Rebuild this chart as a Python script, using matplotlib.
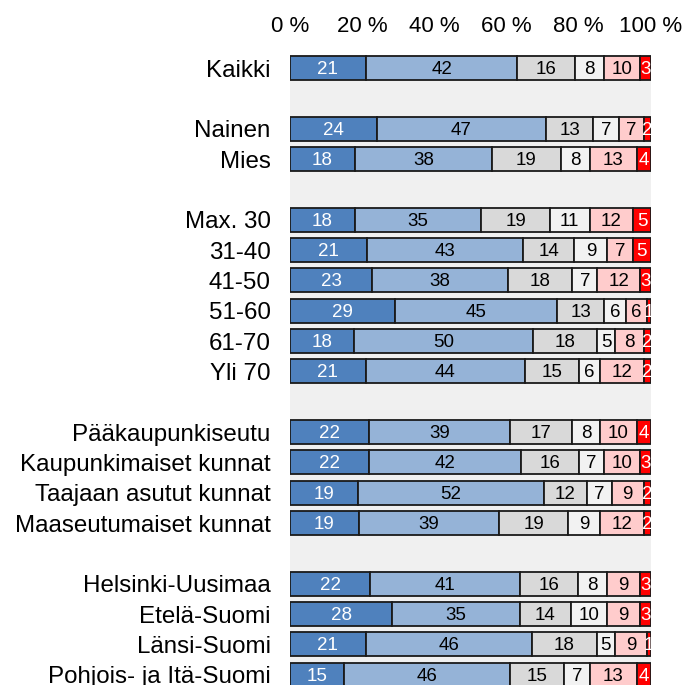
import numpy as np
import matplotlib.pyplot as plt

plt.rcParams['font.family'] = ['Liberation Sans', 'DejaVu Sans']

# rows of the chart, None = empty spacer row
labels = ['Kaikki', None,
          'Nainen', 'Mies', None,
          'Max. 30', '31-40', '41-50', '51-60', '61-70', 'Yli 70', None,
          'Pääkaupunkiseutu', 'Kaupunkimaiset kunnat', 'Taajaan asutut kunnat',
          'Maaseutumaiset kunnat', None,
          'Helsinki-Uusimaa', 'Etelä-Suomi', 'Länsi-Suomi', 'Pohjois- ja Itä-Suomi']

s1 = [21, None, 24, 18, None, 18, 21, 23, 29, 18, 21, None, 22, 22, 19, 19, None, 22, 28, 21, 15]
s2 = [42, None, 47, 38, None, 35, 43, 38, 45, 50, 44, None, 39, 42, 52, 39, None, 41, 35, 46, 46]
s3 = [16, None, 13, 19, None, 19, 14, 18, 13, 18, 15, None, 17, 16, 12, 19, None, 16, 14, 18, 15]
s4 = [8, None, 7, 8, None, 11, 9, 7, 6, 5, 6, None, 8, 7, 7, 9, None, 8, 10, 5, 7]
s5 = [10, None, 7, 13, None, 12, 7, 12, 6, 8, 12, None, 10, 10, 9, 12, None, 9, 9, 9, 13]
s6 = [3, None, 2, 4, None, 5, 5, 3, 1, 2, 2, None, 4, 3, 2, 2, None, 3, 3, 1, 4]

colors = ['#4F81BD', '#95B3D7', '#D9D9D9', '#F2F2F2', '#FFCCCC', '#FF0000']
txtcol = ['white', 'black', 'black', 'black', 'black', 'white']

fig = plt.figure(figsize=(6.89, 6.85), dpi=100)
ax = fig.add_axes([290 / 689, 1 - 705 / 685, 361 / 689, 650 / 685])
ax.set_facecolor('#F0F0F0')

series = [s1, s2, s3, s4, s5, s6]
for i, lab in enumerate(labels):
    if lab is None:
        continue
    vals = np.array([s[i] for s in series], dtype=float)
    widths = vals / vals.sum() * 100
    left = 0
    for j, (w, v) in enumerate(zip(widths, vals)):
        ax.barh(i, w, left=left, height=0.8, color=colors[j],
                edgecolor='#1a1a1a', linewidth=1.3)
        ax.text(left + w / 2, i + 0.05, f'{int(v)}', ha='center', va='center',
                fontsize=13.5, color=txtcol[j])
        left += w

ax.set_ylim(21, -0.43)
ax.set_xlim(0, 100)
ax.set_yticks([i for i, l in enumerate(labels) if l is not None])
ax.set_yticklabels([l for l in labels if l is not None], fontsize=17.4)
ax.set_xticks(range(0, 101, 20))
ax.set_xticklabels([f'{t} %' for t in range(0, 101, 20)], fontsize=16)
ax.xaxis.tick_top()
ax.tick_params(axis='both', length=0)
ax.tick_params(axis='y', pad=14)
ax.tick_params(axis='x', pad=13)
for sp in ax.spines.values():
    sp.set_visible(False)

fig.savefig('out.png', dpi=100)
